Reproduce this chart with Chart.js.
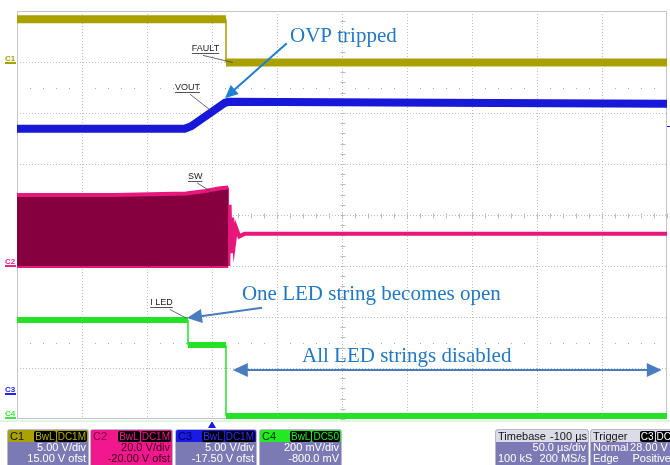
<!DOCTYPE html>
<html>
<head>
<meta charset="utf-8">
<script src="https://cdn.jsdelivr.net/npm/chart.js@4"></script>
<style>
body{margin:0;background:#fff;}
#wrap{position:relative;width:670px;height:465px;overflow:hidden;background:#fff;}
canvas{position:absolute;left:0;top:0;}
.strip{position:absolute;left:0;top:420px;width:670px;height:2px;background:#e2f4e2;}
.box{position:absolute;top:429px;height:40px;border:1px solid #b8b8d0;border-radius:3px 3px 0 0;background:#7b7ab4;color:#fff;font:11px "Liberation Sans",Arial,sans-serif;overflow:hidden;box-sizing:border-box;}
.hdr{height:12px;line-height:12px;padding:0 1px 0 2px;display:flex;justify-content:space-between;align-items:center;color:#111;font-size:11px;white-space:nowrap;}
.row{height:11px;line-height:11px;padding:0 2px;display:flex;justify-content:space-between;white-space:nowrap;}
.badge{background:#000;border-radius:2px;padding:0 1px;margin-left:1px;font-size:10px;line-height:11px;}
</style>
</head>
<body>
<div id="wrap">
  <canvas id="scope" width="670" height="465"></canvas>
  <div class="strip"></div>

  <div class="box" style="left:7px;width:82px;">
    <div class="hdr" style="background:#a9a100;"><span>C1</span><span><span class="badge" style="color:#b8b000">BwL</span><span class="badge" style="color:#b8b000">DC1M</span></span></div>
    <div class="row"><span></span><span>5.00 V/div</span></div>
    <div class="row"><span></span><span>15.00 V ofst</span></div>
  </div>
  <div class="box" style="left:90px;width:83px;background:#f0188c;color:#3a0018;">
    <div class="hdr" style="background:#f0188c;color:#7a0040;"><span>C2</span><span><span class="badge" style="color:#f0188c">BwL</span><span class="badge" style="color:#f0188c">DC1M</span></span></div>
    <div class="row"><span></span><span>20.0 V/div</span></div>
    <div class="row"><span></span><span>-20.00 V ofst</span></div>
  </div>
  <div class="box" style="left:175px;width:82px;">
    <div class="hdr" style="background:#1a1ae6;color:#000050;"><span>C3</span><span><span class="badge" style="color:#3030ff">BwL</span><span class="badge" style="color:#3030ff">DC1M</span></span></div>
    <div class="row"><span></span><span>5.00 V/div</span></div>
    <div class="row"><span></span><span>-17.50 V ofst</span></div>
  </div>
  <div class="box" style="left:259px;width:83px;">
    <div class="hdr" style="background:#22ea22;color:#003000;"><span>C4</span><span><span class="badge" style="color:#22ea22">BwL</span><span class="badge" style="color:#22ea22">DC50</span></span></div>
    <div class="row"><span></span><span>200 mV/div</span></div>
    <div class="row"><span></span><span>-800.0 mV</span></div>
  </div>
  <div class="box" style="left:495px;width:94px;">
    <div class="hdr" style="background:#dcdce8;"><span>Timebase</span><span>-100 µs</span></div>
    <div class="row"><span></span><span>50.0 µs/div</span></div>
    <div class="row"><span>100 kS</span><span>200 MS/s</span></div>
  </div>
  <div class="box" style="left:590px;width:84px;">
    <div class="hdr" style="background:#dcdce8;"><span>Trigger</span><span><span class="badge" style="color:#fff">C3</span><span class="badge" style="color:#fff">DC</span></span></div>
    <div class="row"><span>Normal</span><span>28.00 V&nbsp;</span></div>
    <div class="row"><span>Edge</span><span>Positive</span></div>
  </div>
</div>

<script>
// screen is 10 x 8 divisions, all values below are in divisions
const X_DIVS = 10;
const Y_DIVS = 8;

// C1 FAULT
const faultX = [0, 3.215, 3.215, 10];
const faultY = [7.84, 7.84, 6.99, 6.99];

// C3 VOUT
const voutX = [0, 2.58, 2.68, 3.2, 3.26, 6.5, 10];
const voutY = [5.69, 5.69, 5.74, 6.2, 6.22, 6.2, 6.18];

// C2 SW (switching band, then ringing and flat)
const swBandX = [0, 1.5, 2.6, 2.9, 3.1, 3.25];
const swTopY = [4.39, 4.39, 4.42, 4.47, 4.52, 4.54];
const swBotY = [3.0, 3.0, 3.0, 3.0, 3.0, 3.0];
const swTailX = [3.25, 3.25, 3.27, 3.29, 3.31, 3.34, 3.37, 3.42, 3.5, 10];
const swTailY = [4.54, 3.0, 4.2, 3.25, 3.95, 3.45, 3.75, 3.58, 3.63, 3.63];

// C4 I LED
const iledX = [0, 2.63, 2.63, 3.215, 3.215, 10];
const iledY = [1.94, 1.94, 1.45, 1.45, 0.06, 0.06];

// channel ground markers on the left edge
const chanNames = ['C1', 'C2', 'C3', 'C4'];
const chanLevels = [6.99, 3.0, 0.49, 0.02];
const chanColors = ['#a9a100', '#f0208a', '#2222ff', '#3ee83e'];

const pts = (xs, ys) => xs.map((x, i) => ({x: x, y: ys[i]}));
const thinEdge = w => ({
  borderWidth: c => c.p0.parsed.x === c.p1.parsed.x ? 1.5 : w
});

function line(ctx, x1, y1, x2, y2) {
  ctx.beginPath(); ctx.moveTo(x1, y1); ctx.lineTo(x2, y2); ctx.stroke();
}

function arrowHead(ctx, fx, fy, tx, ty, len, half) {
  const ang = Math.atan2(ty - fy, tx - fx);
  ctx.beginPath();
  ctx.moveTo(tx, ty);
  ctx.lineTo(tx - len * Math.cos(ang) + half * Math.sin(ang), ty - len * Math.sin(ang) - half * Math.cos(ang));
  ctx.lineTo(tx - len * Math.cos(ang) - half * Math.sin(ang), ty - len * Math.sin(ang) + half * Math.cos(ang));
  ctx.closePath(); ctx.fill();
}

const scopeDecor = {
  id: 'scopeDecor',
  beforeDatasetsDraw(chart) {
    const {ctx, chartArea: a, scales: {x, y}} = chart;
    ctx.save();
    ctx.lineWidth = 1;
    ctx.strokeStyle = '#bdbdbd';
    ctx.setLineDash([1, 2]);
    for (let i = 1; i < X_DIVS; i++) {
      const px = Math.round(x.getPixelForValue(i)) + 0.5;
      line(ctx, px, a.top, px, a.bottom);
    }
    for (let j = 1; j < Y_DIVS; j++) {
      const py = Math.round(y.getPixelForValue(j)) + 0.5;
      line(ctx, a.left, py, a.right, py);
    }
    ctx.setLineDash([]);
    // centre cross ticks
    const cx = Math.round(x.getPixelForValue(X_DIVS / 2)) + 0.5;
    const cy = Math.round(y.getPixelForValue(Y_DIVS / 2)) + 0.5;
    for (let t = 0; t <= Y_DIVS; t += 0.2) {
      const py = Math.round(y.getPixelForValue(t)) + 0.5;
      line(ctx, cx - 2, py, cx + 3, py);
    }
    for (let t = 0; t <= X_DIVS; t += 0.2) {
      const px = Math.round(x.getPixelForValue(t)) + 0.5;
      line(ctx, px, cy - 2, px, cy + 3);
    }
    // sparse dot rows
    ctx.fillStyle = '#aaaaaa';
    [6.5, 1.5].forEach(r => {
      const py = Math.round(y.getPixelForValue(r));
      for (let t = 0.2; t < X_DIVS; t += 0.2) {
        if (Math.abs(t - Math.round(t)) < 0.01) continue;
        ctx.fillRect(Math.round(x.getPixelForValue(t)), py, 1, 1);
      }
    });
    // frame
    ctx.strokeStyle = '#c4c4c4';
    ctx.strokeRect(a.left + 0.5, a.top + 0.5, a.width - 1, a.height - 1);
    ctx.restore();
  },
  afterDatasetsDraw(chart) {
    const {ctx, chartArea: a, scales: {x, y}} = chart;
    const X = v => x.getPixelForValue(v);
    const Y = v => y.getPixelForValue(v);
    ctx.save();

    // channel ground markers
    ctx.font = 'bold 8px "Liberation Sans", Arial, sans-serif';
    ctx.textBaseline = 'alphabetic';
    chanNames.forEach((n, i) => {
      const py = Math.round(Y(chanLevels[i]));
      ctx.fillStyle = chanColors[i];
      ctx.fillText(n, 5, py - 2);
      ctx.fillRect(5, py - 1, 11, 2);
    });

    // trigger markers
    ctx.fillStyle = '#1a1ae6';
    const tx = X(3.0);
    ctx.beginPath(); ctx.moveTo(tx, 421); ctx.lineTo(tx - 4, 428); ctx.lineTo(tx + 4, 428); ctx.closePath(); ctx.fill();
    ctx.fillRect(a.right, Math.round(Y(5.75)), 3, 1);

    // signal callouts
    ctx.font = '9px "Liberation Sans", Arial, sans-serif';
    const callouts = [
      {t: 'FAULT', x: 2.69, y: 7.22, lx: [2.86, 3.32], ly: [7.13, 6.99]},
      {t: 'VOUT', x: 2.43, y: 6.45, lx: [2.66, 2.97], ly: [6.37, 6.06]},
      {t: 'SW', x: 2.63, y: 4.71, lx: [2.77, 3.02], ly: [4.63, 4.43]},
      {t: 'I LED', x: 2.05, y: 2.24, lx: [2.35, 2.6], ly: [2.15, 1.98]}
    ];
    callouts.forEach(c => {
      const px = X(c.x), py = Y(c.y);
      const w = ctx.measureText(c.t).width;
      ctx.fillStyle = '#222';
      ctx.fillText(c.t, px, py);
      ctx.fillStyle = '#555';
      ctx.fillRect(px, Math.round(py) + 2, w, 1);
      ctx.strokeStyle = '#444';
      ctx.lineWidth = 0.8;
      line(ctx, X(c.lx[0]), Y(c.ly[0]), X(c.lx[1]), Y(c.ly[1]));
    });

    // blue annotations
    ctx.font = '21px "Liberation Serif", "Times New Roman", serif';
    ctx.fillStyle = '#2378c3';
    ctx.fillText('OVP tripped', X(4.2), Y(7.39));
    ctx.fillText('One LED string becomes open', X(3.46), Y(2.33));
    ctx.fillText('All LED strings disabled', X(4.385), Y(1.118));

    // OVP arrow
    ctx.strokeStyle = '#1f7fd2';
    ctx.fillStyle = '#1f7fd2';
    ctx.lineWidth = 2;
    let fx = X(4.15), fy = Y(7.37), ex = X(3.2), ey = Y(6.29);
    line(ctx, fx, fy, ex + (fx - ex) * 0.12, ey + (fy - ey) * 0.12);
    arrowHead(ctx, fx, fy, ex, ey, 13, 6);

    // one string arrow
    ctx.strokeStyle = '#4a7dbd';
    ctx.fillStyle = '#4a7dbd';
    fx = X(3.77); fy = Y(2.18); ex = X(2.615); ey = Y(1.98);
    line(ctx, fx, fy, ex + 12, ey - 1.5);
    arrowHead(ctx, fx, fy, ex, ey, 15, 7);

    // disabled double arrow
    const ly = Y(0.96), l1 = X(3.32), l2 = X(9.92);
    line(ctx, l1 + 12, ly, l2 - 12, ly);
    arrowHead(ctx, l2, ly, l1, ly, 15, 7);
    arrowHead(ctx, l1, ly, l2, ly, 15, 7);

    ctx.restore();
  }
};

new Chart(document.getElementById('scope'), {
  type: 'line',
  data: {
    datasets: [
      {data: pts(faultX, faultY), borderColor: '#a9a100', borderWidth: 8, segment: thinEdge(8)},
      {data: pts(voutX, voutY), borderColor: '#1818d8', borderWidth: 8, segment: thinEdge(8)},
      {data: pts(swBandX, swTopY), borderColor: '#e8177c', borderWidth: 4, fill: '+1', backgroundColor: '#86003f'},
      {data: pts(swBandX, swBotY), borderColor: '#e8177c', borderWidth: 4},
      {data: pts(swTailX, swTailY), borderColor: '#e8177c', borderWidth: 4, segment: thinEdge(4)},
      {data: pts(iledX, iledY), borderColor: '#26e226', borderWidth: 6, segment: thinEdge(6)}
    ]
  },
  options: {
    responsive: false,
    animation: false,
    layout: {padding: {left: 17, top: 11, right: 3, bottom: 46}},
    elements: {point: {radius: 0}, line: {tension: 0, borderCapStyle: 'butt'}},
    plugins: {legend: {display: false}, tooltip: {enabled: false}},
    scales: {
      x: {type: 'linear', display: false, min: 0, max: X_DIVS},
      y: {type: 'linear', display: false, min: 0, max: Y_DIVS}
    }
  },
  plugins: [scopeDecor]
});
</script>
</body>
</html>
